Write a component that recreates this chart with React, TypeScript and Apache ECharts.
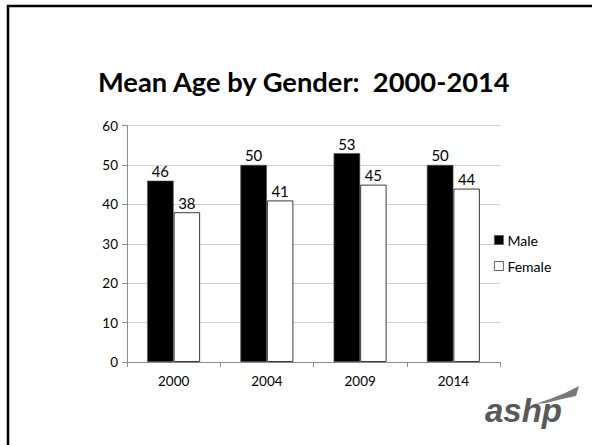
import React, { useEffect, useRef } from "react";
import * as echarts from "echarts";

const categories = ["2000", "2004", "2009", "2014"];
const maleValues = [46, 50, 53, 50];
const femaleValues = [38, 41, 45, 44];
const seriesNames = ["Male", "Female"];
const titleText = "Mean Age by Gender:  2000-2014";

const FONT = "Lato, 'Liberation Sans', sans-serif";

export default function App() {
  const ref = useRef<HTMLDivElement>(null);
  useEffect(() => {
    document.body.style.margin = "0";
    const chart = echarts.init(ref.current!, null, { renderer: "svg" });
    chart.setOption({
      animation: false,
      backgroundColor: "#ffffff",
      title: {
        text: titleText,
        left: 98,
        top: 68,
        padding: 0,
        textStyle: { fontFamily: FONT, fontWeight: "bold", fontSize: 27.3, color: "#000" },
      },
      legend: {
        orient: "vertical",
        left: 494,
        top: 233,
        padding: 0,
        itemGap: 12,
        itemWidth: 9,
        itemHeight: 9,
        itemStyle: { borderWidth: 0.8 },
        backgroundColor: "#ffffff",
        icon: "rect",
        data: seriesNames,
        textStyle: { fontFamily: FONT, fontSize: 14, color: "#000", padding: [0, 0, 0, -1] },
      },
      grid: { left: 127, right: 92, top: 125.5, bottom: 83, containLabel: false },
      xAxis: {
        type: "category",
        data: categories,
        axisLine: { show: true, lineStyle: { color: "#8c8c8c", width: 1 } },
        axisTick: { show: true, length: 5, lineStyle: { color: "#8c8c8c" } },
        axisLabel: { fontFamily: FONT, fontSize: 13.5, color: "#000", margin: 12 },
        splitLine: { show: false },
      },
      yAxis: {
        type: "value",
        min: 0,
        max: 60,
        interval: 10,
        axisLine: { show: true, lineStyle: { color: "#8c8c8c", width: 1 } },
        axisTick: { show: true, length: 5, lineStyle: { color: "#8c8c8c" } },
        axisLabel: { fontFamily: FONT, fontSize: 13.5, color: "#000", margin: 9 },
        splitLine: { show: true, lineStyle: { color: "#cfcfcf", width: 1 } },
      },
      series: [
        {
          name: seriesNames[0],
          type: "bar",
          data: maleValues,
          barWidth: 26.5,
          barGap: "0%",
          itemStyle: { color: "#000000", borderColor: "#555", borderWidth: 0.6 },
          label: {
            show: true,
            position: "top",
            distance: 2,
            fontFamily: FONT,
            fontSize: 15,
            color: "#000",
          },
        },
        {
          name: seriesNames[1],
          type: "bar",
          data: femaleValues,
          barWidth: 26.5,
          barGap: "0%",
          itemStyle: { color: "#ffffff", borderColor: "#3a3a3a", borderWidth: 1 },
          label: {
            show: true,
            position: "top",
            distance: 2,
            fontFamily: FONT,
            fontSize: 15,
            color: "#000",
          },
        },
      ],
      graphic: [
        {
          type: "rect",
          shape: { x: 8, y: 6, width: 620, height: 480 },
          style: { fill: "none", stroke: "#000", lineWidth: 2.5 },
          silent: true,
          z: 100,
        },
        {
          type: "text",
          x: 485,
          y: 410,
          style: {
            text: "ashp",
            fontFamily: "'Liberation Sans', Arial, sans-serif",
            fontWeight: "bold",
            fontStyle: "italic",
            fontSize: 33,
            fill: "#595959",
            textVerticalAlign: "middle",
          },
          z: 50,
        },
        {
          type: "polygon",
          shape: {
            points: [
              [535, 404],
              [550, 399],
              [565, 393],
              [579, 386],
              [576, 396],
              [562, 399],
              [546, 403],
            ],
          },
          style: { fill: "#7a7a7a" },
          z: 50,
        },
      ],
    });
    return () => chart.dispose();
  }, []);
  return (
    <div
      ref={ref}
      style={{ position: "fixed", left: 0, top: 0, width: 592, height: 445 }}
    />
  );
}
